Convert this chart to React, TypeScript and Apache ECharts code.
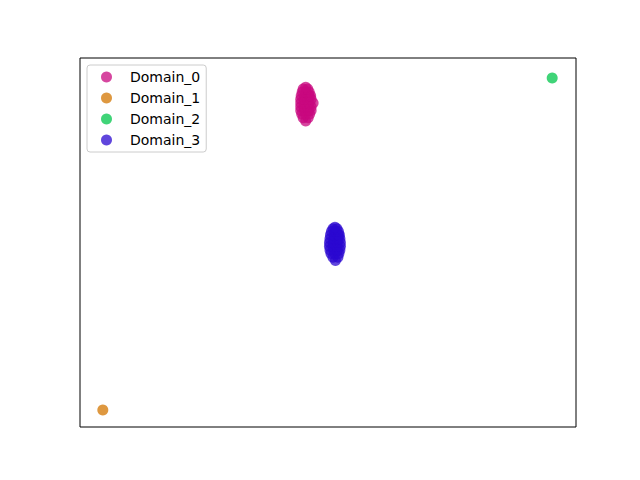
import React, { useEffect, useRef } from "react";
import * as echarts from "echarts";

const seriesNames = ["Domain_0", "Domain_1", "Domain_2", "Domain_3"];
const seriesColors = ["#c8087f", "#d37500", "#00c54b", "#2b08d0"];

const domain0: number[][] = [
  [45.5, 82.9],
  [45.0, 83.8], [46.0, 83.8],
  [44.7, 84.8], [45.5, 84.8], [46.3, 84.8],
  [44.5, 85.8], [45.3, 85.8], [46.1, 85.8], [46.6, 85.8],
  [44.5, 86.8], [45.2, 86.8], [45.9, 86.8], [46.6, 86.8],
  [44.5, 87.8], [45.4, 87.8], [46.2, 87.8], [47.0, 87.8],
  [44.5, 88.8], [45.2, 88.8], [45.9, 88.8], [46.6, 88.8],
  [44.6, 89.8], [45.4, 89.8], [46.2, 89.8], [46.5, 89.8],
  [44.8, 90.8], [45.5, 90.8], [46.2, 90.8],
  [45.0, 91.6], [45.9, 91.6],
  [45.5, 92.1],
];
const domain1: number[][] = [[4.6, 4.6]];
const domain2: number[][] = [[95.2, 94.6]];
const domain3: number[][] = [
  [51.5, 45.1],
  [51.0, 46.0], [52.0, 46.0],
  [50.6, 47.0], [51.4, 47.0], [52.2, 47.0],
  [50.4, 48.0], [51.2, 48.0], [51.9, 48.0], [52.4, 48.0],
  [50.3, 49.0], [51.0, 49.0], [51.8, 49.0], [52.5, 49.0],
  [50.3, 50.0], [51.1, 50.0], [51.9, 50.0], [52.5, 50.0],
  [50.4, 51.0], [51.2, 51.0], [52.0, 51.0], [52.4, 51.0],
  [50.5, 52.0], [51.3, 52.0], [52.1, 52.0], [52.3, 52.0],
  [50.7, 53.0], [51.5, 53.0], [52.1, 53.0],
  [51.0, 53.7], [51.8, 53.7],
  [51.4, 54.1],
];
const allData = [domain0, domain1, domain2, domain3];

export default function App() {
  const ref = useRef<HTMLDivElement>(null);
  useEffect(() => {
    if (!ref.current) return;
    const chart = echarts.init(ref.current, undefined, { renderer: "svg" });
    chart.setOption({
      animation: false,
      backgroundColor: "#ffffff",
      textStyle: { fontFamily: "DejaVu Sans" },
      grid: {
        left: 80,
        top: 58,
        width: 496,
        height: 369,
        show: true,
        borderColor: "#000000",
        borderWidth: 1,
        backgroundColor: "transparent",
      },
      xAxis: {
        type: "value",
        min: 0,
        max: 100,
        axisLine: { show: false },
        axisTick: { show: false },
        axisLabel: { show: false },
        splitLine: { show: false },
      },
      yAxis: {
        type: "value",
        min: 0,
        max: 100,
        axisLine: { show: false },
        axisTick: { show: false },
        axisLabel: { show: false },
        splitLine: { show: false },
      },
      legend: {
        orient: "vertical",
        left: 87,
        top: 65,
        padding: [5, 6, 5, 14],
        itemWidth: 37,
        itemHeight: 11,
        itemGap: 7,
        icon: "circle",
        borderColor: "#cccccc",
        borderWidth: 1,
        borderRadius: 3,
        backgroundColor: "rgba(255,255,255,0.8)",
        textStyle: {
          fontFamily: "DejaVu Sans",
          fontSize: 14,
          color: "#000000",
        },
        data: seriesNames,
      },
      series: seriesNames.map((name, i) => ({
        name,
        type: "scatter",
        data: allData[i],
        symbolSize: 11,
        itemStyle: { color: seriesColors[i], opacity: 0.75 },
        emphasis: { disabled: true },
      })),
    });
    return () => chart.dispose();
  }, []);
  return (
    <div
      ref={ref}
      style={{ position: "fixed", left: 0, top: 0, width: 640, height: 480 }}
    />
  );
}
